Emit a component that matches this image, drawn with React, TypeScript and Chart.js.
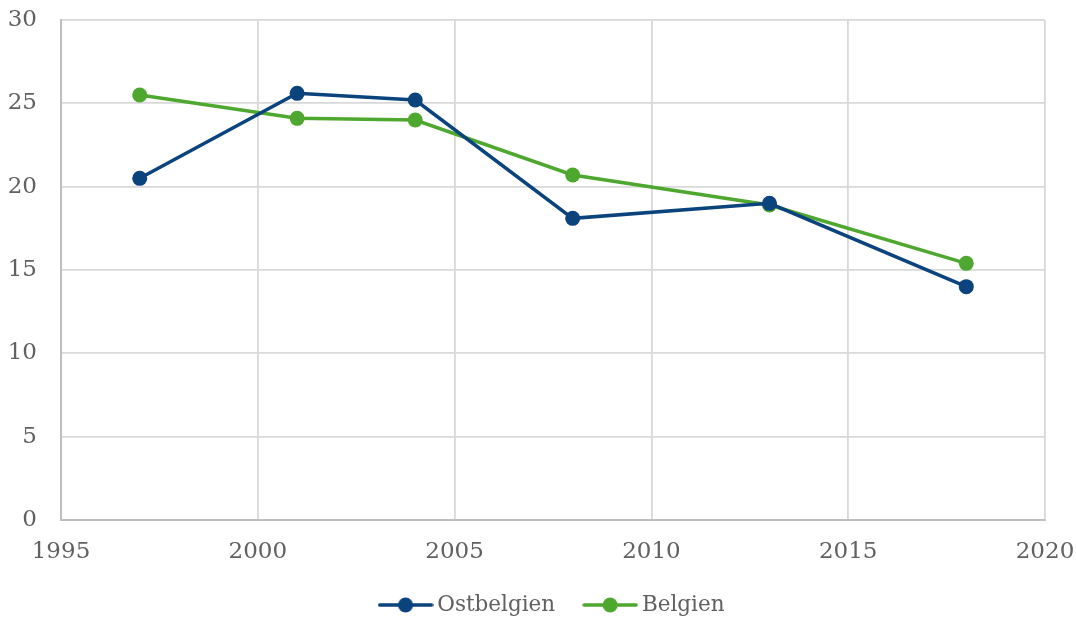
import React, { useEffect, useRef } from "react";
import { Chart, registerables } from "chart.js";

Chart.register(...registerables);

const years = [1997, 2001, 2004, 2008, 2013, 2018];
const ostbelgien = [20.5, 25.6, 25.2, 18.1, 19.0, 14.0];
const belgien = [25.5, 24.1, 24.0, 20.7, 18.9, 15.4];
const seriesNames = ["Ostbelgien", "Belgien"];
const seriesColors = ["#0b437c", "#4ea72e"];

const FONT = "'DejaVu Serif', serif";
const TEXT = "#616161";
const TICK_SIZE = 23;
const LEGEND_SIZE = 21.5;
const LEGEND_PAD = 34;
const LEGEND_BOX_H = 30;
const LEGEND_DX = 32;
const LEGEND_CENTER_Y = 605;

function legendIcon(color: string): HTMLCanvasElement {
  const c = document.createElement("canvas");
  c.width = 56;
  c.height = 16;
  const ctx = c.getContext("2d")!;
  ctx.strokeStyle = color;
  ctx.lineWidth = 3.5;
  ctx.lineCap = "round";
  ctx.beginPath();
  ctx.moveTo(2, 8);
  ctx.lineTo(54, 8);
  ctx.stroke();
  ctx.fillStyle = color;
  ctx.beginPath();
  ctx.arc(28, 8, 7.5, 0, Math.PI * 2);
  ctx.fill();
  return c;
}

const legendShift = {
  id: "legendShift",
  afterLayout(chart: any) {
    const lg = chart.legend;
    if (!lg) return;
    const wantTop = LEGEND_CENTER_Y - LEGEND_PAD - LEGEND_SIZE / 2;
    lg.top = wantTop;
    lg.bottom = chart.height;
    lg.height = lg.bottom - lg.top;
    lg.left += LEGEND_DX;
    lg.right += LEGEND_DX;
  },
};

export default function App() {
  const ref = useRef<HTMLCanvasElement | null>(null);
  useEffect(() => {
    if (!ref.current) return;
    const icons = seriesColors.map(legendIcon);
    const mk = (vals: number[], i: number) => ({
      label: seriesNames[i],
      data: years.map((y, k) => ({ x: y, y: vals[k] })),
      borderColor: seriesColors[i],
      backgroundColor: seriesColors[i],
      borderWidth: 3.5,
      pointRadius: 7.5,
      pointHoverRadius: 7.5,
      pointBorderWidth: 0,
      pointStyle: "circle" as const,
      tension: 0,
    });
    const xLabelH = TICK_SIZE * 1.2 + 18;
    const chart = new Chart(ref.current, {
      type: "line",
      data: {
        datasets: [mk(ostbelgien, 0), mk(belgien, 1)],
      },
      plugins: [legendShift],
      options: {
        animation: false,
        responsive: false,
        maintainAspectRatio: false,
        layout: {
          padding: { left: 0, right: 31, top: 20, bottom: 617 - 520 - LEGEND_BOX_H - xLabelH },
        },
        plugins: {
          tooltip: { enabled: false },
          legend: {
            position: "bottom",
            maxHeight: LEGEND_BOX_H,
            labels: {
              font: { family: FONT, size: LEGEND_SIZE },
              color: TEXT,
              usePointStyle: true,
              pointStyleWidth: 42,
              padding: LEGEND_PAD,
              generateLabels: (ch: any) =>
                ch.data.datasets.map((ds: any, i: number) => ({
                  text: ds.label,
                  fillStyle: ds.borderColor,
                  strokeStyle: ds.borderColor,
                  lineWidth: 0,
                  pointStyle: icons[i],
                  hidden: false,
                  datasetIndex: i,
                  fontColor: TEXT,
                })),
            },
          },
        },
        scales: {
          x: {
            type: "linear",
            min: 1995,
            max: 2020,
            ticks: {
              stepSize: 5,
              padding: 0,
              color: TEXT,
              font: { family: FONT, size: TICK_SIZE },
              callback: (v: any) => String(v),
            },
            grid: {
              color: "#d9d9d9",
              lineWidth: 1.8,
              drawTicks: true,
              tickLength: 18,
              tickColor: "rgba(0,0,0,0)",
            },
            border: { color: "#bfbfbf", width: 2 },
          },
          y: {
            min: 0,
            max: 30,
            ticks: {
              stepSize: 5,
              padding: 0,
              color: TEXT,
              font: { family: FONT, size: TICK_SIZE },
            },
            grid: {
              color: "#d9d9d9",
              lineWidth: 1.8,
              drawTicks: true,
              tickLength: 24,
              tickColor: "rgba(0,0,0,0)",
            },
            border: { color: "#bfbfbf", width: 2 },
            afterFit: (s: any) => {
              s.width = 61;
            },
          },
        },
      },
    });
    return () => chart.destroy();
  }, []);
  return (
    <div style={{ position: "fixed", left: 0, top: 0, width: 1076, height: 617, background: "#fff" }}>
      <canvas ref={ref} width={1076} height={617} style={{ display: "block" }} />
    </div>
  );
}
